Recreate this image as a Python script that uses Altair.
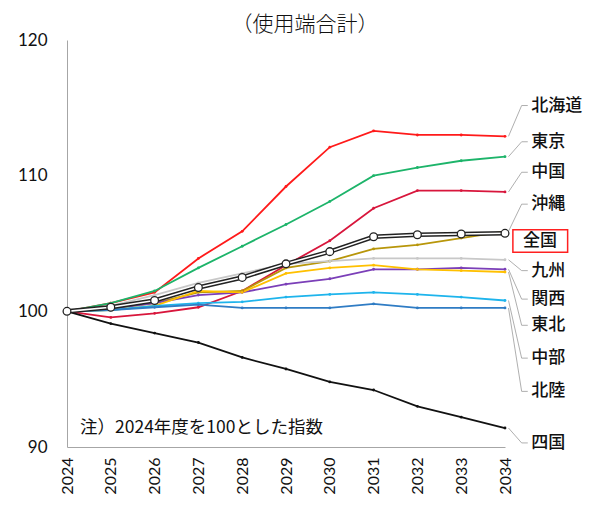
import altair as alt
import pandas as pd

years = list(range(2024, 2035))

regions = ["北海道", "東京", "中国", "沖縄", "九州", "関西", "東北", "中部", "北陸", "四国"]
hokkaido = [100, 100.6, 101.4, 103.9, 105.9, 109.2, 112.1, 113.3, 113.0, 113.0, 112.9]
tokyo = [100, 100.6, 101.5, 103.2, 104.8, 106.4, 108.1, 110.0, 110.6, 111.1, 111.4]
chugoku = [100, 99.55, 99.85, 100.3, 101.5, 103.4, 105.2, 107.6, 108.9, 108.9, 108.8]
okinawa = [100, 100.2, 100.6, 101.4, 101.5, 103.2, 103.7, 104.6, 104.9, 105.4, 105.9]
kyushu = [100, 100.4, 101.2, 102.1, 102.8, 103.5, 103.7, 103.9, 103.9, 103.9, 103.8]
kansai = [100, 100.2, 100.6, 101.2, 101.4, 102.0, 102.4, 103.1, 103.1, 103.2, 103.1]
tohoku = [100, 100.1, 100.4, 101.5, 101.4, 102.8, 103.2, 103.4, 103.1, 103.0, 102.9]
chubu = [100, 100.1, 100.4, 100.6, 100.7, 101.05, 101.25, 101.4, 101.25, 101.05, 100.8]
hokuriku = [100, 100.1, 100.3, 100.5, 100.25, 100.25, 100.25, 100.55, 100.25, 100.25, 100.25]
shikoku = [100, 99.1, 98.4, 97.7, 96.6, 95.75, 94.8, 94.2, 93.0, 92.2, 91.4]
zenkoku = [100, 100.3, 100.8, 101.75, 102.5, 103.5, 104.4, 105.5, 105.65, 105.7, 105.75]

series = [hokkaido, tokyo, chugoku, okinawa, kyushu, kansai, tohoku, chubu, hokuriku, shikoku]
colors = ["#FF1A1A", "#1DB46A", "#D8163C", "#B8960A", "#C8C8C8", "#7B3FB8",
          "#FFC000", "#1EB4EC", "#2F7CC4", "#111111"]

# label anchor values (in index units) for the right-hand annotations
label_values = [115.17, 112.5, 110.25, 107.9, 103.0, 100.9, 98.97, 96.55, 94.1, 90.3]
zenkoku_label_value = 105.2

title_text = "（使用端合計）"
note_text = "注）2024年度を100とした指数"

rows = []
for name, vals in zip(regions, series):
    for y, v in zip(years, vals):
        rows.append({"region": name, "year": y, "value": v})
df = pd.DataFrame(rows)
df_all = pd.DataFrame({"year": years, "value": zenkoku})

leader_rows = []
for name, vals, lv in zip(regions, series, label_values):
    leader_rows.append({"region": name, "order": 0, "year": 2034.08, "value": vals[-1]})
    leader_rows.append({"region": name, "order": 1, "year": 2034.38, "value": lv})
    leader_rows.append({"region": name, "order": 2, "year": 2034.52, "value": lv})
df_leader = pd.DataFrame(leader_rows)
df_labels = pd.DataFrame({"region": regions, "value": label_values, "year": [2034.6] * len(regions)})
df_zlabel = pd.DataFrame({"region": ["全国"], "value": [zenkoku_label_value], "year": [2034.8],
                          "x1": [2034.18], "x2": [2035.43],
                          "y1": [zenkoku_label_value + 0.82], "y2": [zenkoku_label_value - 0.85]})

xscale = alt.Scale(domain=[2024, 2034], nice=False, zero=False)
yscale = alt.Scale(domain=[90, 120], nice=False, zero=False)
color = alt.Color("region:N", scale=alt.Scale(domain=regions, range=colors), legend=None)

xaxis = alt.Axis(values=years, format="d", labelAngle=270, ticks=False, grid=False,
                 domainColor="#A6A6A6", labelFontSize=16, labelFont="Lato",
                 labelColor="#111111", labelPadding=10, title=None)
yaxis = alt.Axis(values=[90, 100, 110, 120], ticks=False, grid=False,
                 domainColor="#A6A6A6", labelFontSize=17, labelFont="Lato",
                 labelColor="#111111", labelPadding=20, title=None)

lines = alt.Chart(df).mark_line(
    strokeWidth=1.8,
    point=alt.OverlayMarkDef(size=8, filled=True)
).encode(
    x=alt.X("year:Q", scale=xscale, axis=xaxis),
    y=alt.Y("value:Q", scale=yscale, axis=yaxis),
    color=color,
    order=alt.Order("year:Q"),
)

zk_outer = alt.Chart(df_all).mark_line(color="#222222", strokeWidth=4.6).encode(
    x=alt.X("year:Q", scale=xscale), y=alt.Y("value:Q", scale=yscale))
zk_inner = alt.Chart(df_all).mark_line(color="white", strokeWidth=1.6).encode(
    x=alt.X("year:Q", scale=xscale), y=alt.Y("value:Q", scale=yscale))
zk_pts = alt.Chart(df_all).mark_point(
    shape="circle", filled=True, fill="white", stroke="#222222", strokeWidth=1.3, size=60, opacity=1
).encode(x=alt.X("year:Q", scale=xscale), y=alt.Y("value:Q", scale=yscale))

leaders = alt.Chart(df_leader).mark_line(color="#A6A6A6", strokeWidth=0.9).encode(
    x=alt.X("year:Q", scale=xscale), y=alt.Y("value:Q", scale=yscale),
    detail="region:N", order="order:Q")

labels = alt.Chart(df_labels).mark_text(
    align="left", baseline="middle", fontSize=17, font="Noto Sans CJK JP",
    fontWeight=500, color="#111111"
).encode(x=alt.X("year:Q", scale=xscale), y=alt.Y("value:Q", scale=yscale), text="region:N")

zbox = alt.Chart(df_zlabel).mark_rect(fill="white", stroke="#FF2020", strokeWidth=1.5).encode(
    x=alt.X("x1:Q", scale=xscale), x2="x2:Q",
    y=alt.Y("y1:Q", scale=yscale), y2="y2:Q")
zlabel = alt.Chart(df_zlabel).mark_text(
    align="center", baseline="middle", fontSize=17, font="Noto Sans CJK JP",
    fontWeight=500, color="#111111"
).encode(x=alt.X("year:Q", scale=xscale), y=alt.Y("value:Q", scale=yscale), text="region:N")

title = alt.Chart(pd.DataFrame({"t": [title_text]})).mark_text(
    align="center", baseline="middle", fontSize=21, font="Noto Sans CJK JP",
    fontWeight=300, color="#111111"
).encode(x=alt.value(238), y=alt.value(-15), text="t:N")

note = alt.Chart(pd.DataFrame({"t": [note_text]})).mark_text(
    align="left", baseline="middle", fontSize=17.5, font="Noto Sans CJK JP",
    color="#111111"
).encode(x=alt.value(13), y=alt.value(388), text="t:N")

chart = alt.layer(
    leaders, lines, zk_outer, zk_inner, zk_pts, labels, zbox, zlabel, title, note
).properties(
    width=438, height=407,
    autosize=alt.AutoSizeParams(type="none"),
    padding={"left": 59, "top": 32, "right": 85, "bottom": 50},
    background="white",
).configure_view(stroke=None)

chart.save("out.html", embed_options={"renderer": "svg", "actions": False})
